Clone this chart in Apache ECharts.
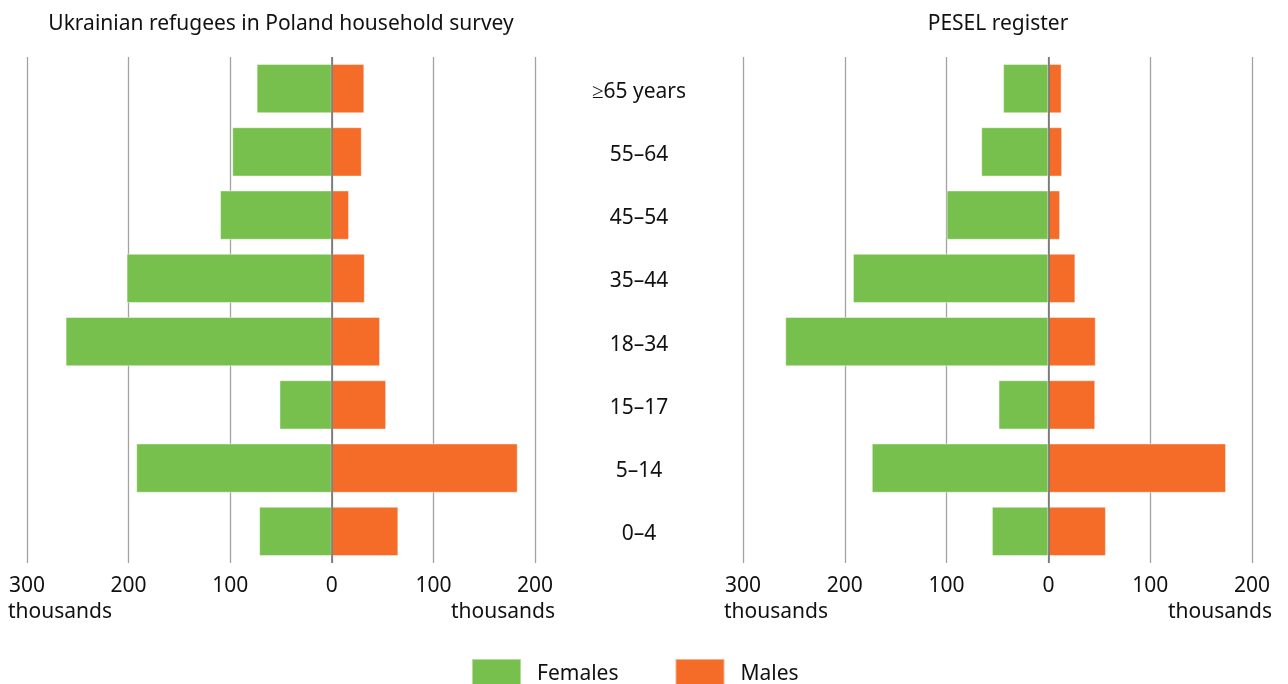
<!DOCTYPE html>
<html>
<head>
<meta charset="utf-8">
<script src="https://cdn.jsdelivr.net/npm/echarts@6/dist/echarts.min.js"></script>
<style>
  html, body { margin: 0; padding: 0; background: #fff; }
  #chart { width: 1288px; height: 684px; }
</style>
</head>
<body>
<div id="chart"></div>
<script>
// age groups, top to bottom
const ageGroups = ['≥65 years', '55–64', '45–54', '35–44', '18–34', '15–17', '5–14', '0–4'];

// thousands of people
const surveyFemales = [74, 98, 110, 202, 262, 51.5, 192.5, 71.5];
const surveyMales = [32, 29.5, 17, 32.5, 47.5, 53.5, 183, 65.5];
const peselFemales = [44.5, 66, 100, 192, 258.5, 49, 173.5, 55.5];
const peselMales = [13, 13.5, 11.5, 26.5, 46.5, 46, 174.5, 56.5];

const axisTicks = [-300, -200, -100, 0, 100, 200];

const green = '#78c04e';
const orange = '#f46c28';
const font = 'Noto Sans';
const fs = 21;

const chart = echarts.init(document.getElementById('chart'));

const xAxisBase = (gridIndex) => ({
  type: 'value',
  gridIndex: gridIndex,
  min: axisTicks[0],
  max: axisTicks[axisTicks.length - 1],
  interval: 100,
  axisLine: { show: false },
  axisTick: { show: false },
  splitLine: { show: true, lineStyle: { color: '#a3a3a3', width: 1.3 } },
  axisLabel: {
    color: '#111',
    fontSize: fs,
    fontFamily: font,
    margin: 13,
    formatter: v => Math.abs(v)
  }
});

const barSeries = (name, data, idx, color, withZero) => {
  const s = {
    name: name,
    type: 'bar',
    xAxisIndex: idx,
    yAxisIndex: idx,
    data: data,
    barGap: '-100%',
    barCategoryGap: '22%',
    itemStyle: { color: color, borderColor: 'rgba(255,255,255,0.45)', borderWidth: 1 },
    silent: true
  };
  if (withZero) {
    s.markLine = {
      silent: true,
      symbol: 'none',
      label: { show: false },
      lineStyle: { color: '#6e6e6e', width: 1.5, type: 'solid' },
      data: [{ xAxis: 0 }]
    };
  }
  return s;
};

const option = {
  animation: false,
  textStyle: { fontFamily: font },
  title: [
    {
      text: 'Ukrainian refugees in Poland household survey',
      left: 276, top: 9, textAlign: 'center',
      textStyle: { fontSize: fs, fontWeight: 'normal', color: '#111', fontFamily: font }
    },
    {
      text: 'PESEL register',
      left: 993, top: 9, textAlign: 'center',
      textStyle: { fontSize: fs, fontWeight: 'normal', color: '#111', fontFamily: font }
    }
  ],
  legend: {
    data: ['Females', 'Males'],
    left: 471,
    top: 658,
    padding: 0,
    itemWidth: 49,
    itemHeight: 30,
    itemGap: 56,
    icon: 'rect',
    textStyle: { fontSize: fs, color: '#111', fontFamily: font, padding: [0, 0, 0, 11] }
  },
  grid: [
    { left: 27, right: 753, top: 57, bottom: 121 },
    { left: 743, right: 36, top: 57, bottom: 121 }
  ],
  xAxis: [xAxisBase(0), xAxisBase(1)],
  yAxis: [
    {
      type: 'category',
      gridIndex: 0,
      data: ageGroups,
      inverse: true,
      position: 'right',
      axisLine: { show: false },
      axisTick: { show: false },
      splitLine: { show: false },
      axisLabel: {
        align: 'center',
        verticalAlign: 'top',
        lineHeight: 6,
        margin: 104,
        fontSize: fs,
        color: '#111',
        fontFamily: font
      }
    },
    {
      type: 'category',
      gridIndex: 1,
      data: ageGroups,
      inverse: true,
      axisLine: { show: false },
      axisTick: { show: false },
      splitLine: { show: false },
      axisLabel: { show: false }
    }
  ],
  graphic: [
    { type: 'text', left: 8, top: 602, style: { text: 'thousands', fontSize: fs, fontFamily: font, fill: '#111' } },
    { type: 'text', right: 733, top: 602, style: { text: 'thousands', fontSize: fs, fontFamily: font, fill: '#111' } },
    { type: 'text', left: 724, top: 602, style: { text: 'thousands', fontSize: fs, fontFamily: font, fill: '#111' } },
    { type: 'text', right: 16, top: 602, style: { text: 'thousands', fontSize: fs, fontFamily: font, fill: '#111' } }
  ],
  series: [
    barSeries('Females', surveyFemales.map(v => -v), 0, green, true),
    barSeries('Males', surveyMales, 0, orange, false),
    barSeries('Females', peselFemales.map(v => -v), 1, green, true),
    barSeries('Males', peselMales, 1, orange, false)
  ]
};

chart.setOption(option);
</script>
</body>
</html>
